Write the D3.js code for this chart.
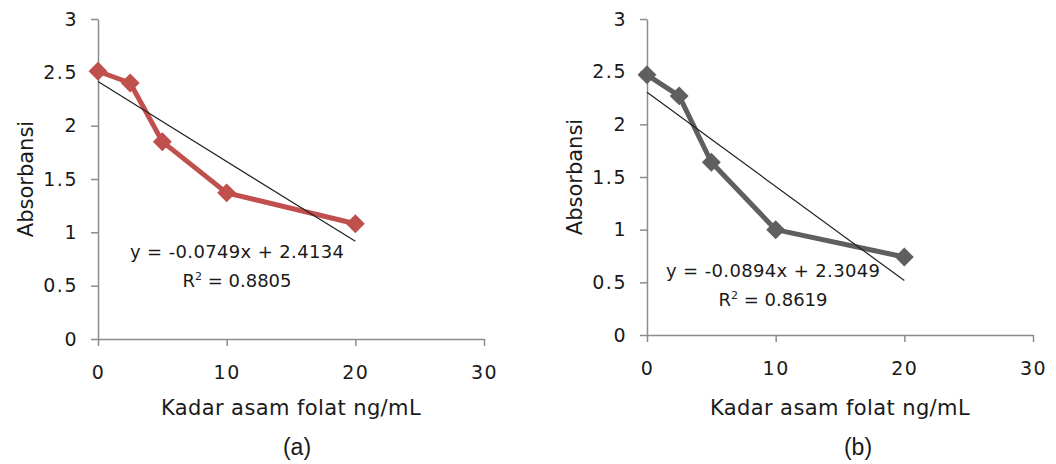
<!DOCTYPE html>
<html>
<head>
<meta charset="utf-8">
<script src="https://cdn.jsdelivr.net/npm/d3@7"></script>
<style>
  body { margin: 0; background: #fff; }
  text { font-family: "DejaVu Sans", Verdana, sans-serif; fill: #1a1a1a; }
</style>
</head>
<body>
<div id="chart"></div>
<script>
// concentration (ng/mL)
const kadar = [0, 2.5, 5, 10, 20];
const absorbansiA = [2.51, 2.40, 1.85, 1.37, 1.08];
const absorbansiB = [2.47, 2.27, 1.64, 1.00, 0.74];
const xTicks = [0, 10, 20, 30];
const yTicks = [0, 0.5, 1, 1.5, 2, 2.5, 3];
const trendA = {slope: -0.0749, intercept: 2.4134, eq: "y = -0.0749x + 2.4134", r2: "0.8805"};
const trendB = {slope: -0.0894, intercept: 2.3049, eq: "y = -0.0894x + 2.3049", r2: "0.8619"};

const width = 1056, height = 464;

const svg = d3.select("#chart")
    .append("svg")
    .attr("width", width)
    .attr("height", height);

function drawPanel(opt) {
    const xScale = d3.scaleLinear().domain([0, 30]).range([opt.left, opt.right]);
    const yScale = d3.scaleLinear().domain([0, 3]).range([opt.bottom, opt.top]);

    const g = svg.append("g");

    const xAxis = g.append("g")
        .attr("transform", `translate(0, ${opt.bottom})`)
        .call(d3.axisBottom(xScale).tickValues(xTicks).tickFormat(d3.format(""))
            .tickSize(7).tickSizeOuter(0).tickPadding(20));
    const yAxis = g.append("g")
        .attr("transform", `translate(${opt.left}, 0)`)
        .call(d3.axisLeft(yScale).tickValues(yTicks).tickFormat(d3.format(""))
            .tickSize(7).tickSizeOuter(0).tickPadding(13));

    [xAxis, yAxis].forEach(a => {
        a.select(".domain").attr("stroke", "#8c8c8c").attr("stroke-width", 1.5);
        a.selectAll(".tick line").attr("stroke", "#8c8c8c").attr("stroke-width", 1.5);
        a.selectAll(".tick text").attr("font-size", 19).attr("fill", "#1a1a1a")
            .attr("letter-spacing", 1.5)
            .style("font-family", '"DejaVu Sans", Verdana, sans-serif');
    });

    const pts = kadar.map((k, i) => ({x: k, y: opt.values[i]}));

    const line = d3.line()
        .x(d => xScale(d.x))
        .y(d => yScale(d.y));

    g.append("path")
        .datum(pts)
        .attr("fill", "none")
        .attr("stroke", opt.color)
        .attr("stroke-width", 5)
        .attr("stroke-linejoin", "round")
        .attr("d", line);

    g.selectAll(".marker")
        .data(pts)
        .join("path")
        .attr("class", "marker")
        .attr("transform", d => `translate(${xScale(d.x)}, ${yScale(d.y)})`)
        .attr("d", d3.symbol(d3.symbolDiamond2, 180))
        .attr("fill", opt.color)
        .attr("stroke", opt.color)
        .attr("stroke-width", 1.5);

    // linear trendline
    const trendX = [0, 20];
    g.append("path")
        .datum(trendX.map(x => ({x: x, y: opt.trend.intercept + opt.trend.slope * x})))
        .attr("fill", "none")
        .attr("stroke", "#222")
        .attr("stroke-width", 1.2)
        .attr("d", line);

    g.append("text")
        .attr("x", opt.eqX)
        .attr("y", opt.eqY)
        .attr("text-anchor", "middle")
        .attr("font-size", 18)
        .attr("textLength", 214)
        .text(opt.trend.eq);

    const r = g.append("text")
        .attr("x", opt.eqX)
        .attr("y", opt.eqY + 29)
        .attr("text-anchor", "middle")
        .attr("font-size", 18);
    r.append("tspan").text("R");
    r.append("tspan").attr("font-size", 11).attr("dy", -7).text("2");
    r.append("tspan").attr("dy", 7).text(" = " + opt.trend.r2);

    g.append("text")
        .attr("x", (opt.left + opt.right) / 2)
        .attr("y", 415)
        .attr("text-anchor", "middle")
        .attr("font-size", 21)
        .attr("letter-spacing", 0.4)
        .text("Kadar asam folat ng/mL");

    g.append("text")
        .attr("transform", `translate(${opt.left - 65}, ${(opt.top + opt.bottom) / 2}) rotate(-90)`)
        .attr("text-anchor", "middle")
        .attr("font-size", 21)
        .text("Absorbansi");

    g.append("text")
        .attr("x", opt.labelX)
        .attr("y", 455)
        .attr("text-anchor", "middle")
        .attr("font-size", 23)
        .style("font-family", '"Liberation Sans", Arial, sans-serif')
        .text(opt.label);
}

drawPanel({left: 98, right: 484, top: 19, bottom: 339, values: absorbansiA, color: "#c0504d",
    trend: trendA, eqX: 237, eqY: 258, label: "(a)", labelX: 297});
drawPanel({left: 647, right: 1033, top: 19, bottom: 335, values: absorbansiB, color: "#5f5f5f",
    trend: trendB, eqX: 773, eqY: 277, label: "(b)", labelX: 858});
</script>
</body>
</html>
